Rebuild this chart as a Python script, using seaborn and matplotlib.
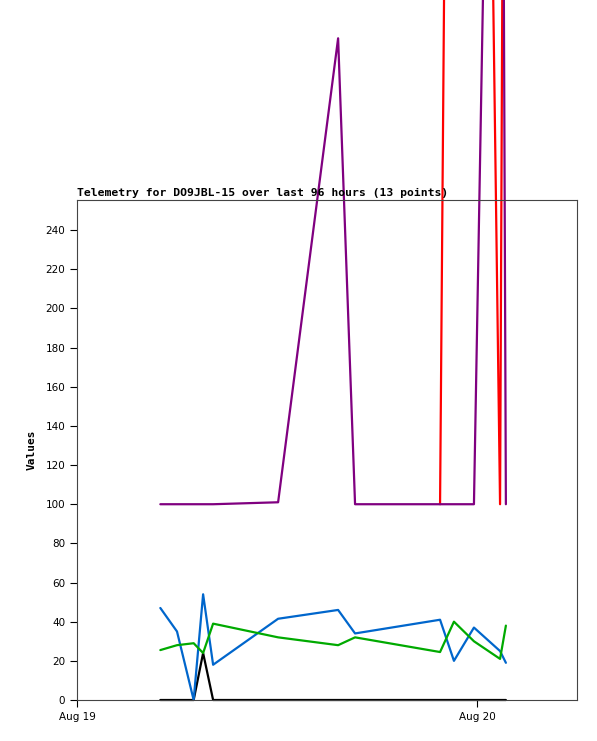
import pandas as pd
import numpy as np
import seaborn as sns
import matplotlib.pyplot as plt
import matplotlib.dates as mdates

# sample times (13 points)
times = pd.to_datetime([
    "2024-08-19 05:00", "2024-08-19 06:00", "2024-08-19 07:00", "2024-08-19 07:34",
    "2024-08-19 08:10", "2024-08-19 12:04", "2024-08-19 15:40", "2024-08-19 16:41",
    "2024-08-19 21:47", "2024-08-19 22:37", "2024-08-19 23:49", "2024-08-20 01:23",
    "2024-08-20 01:44",
])

ch_black = [0, 0, 0, 24, 0, 0, 0, 0, 0, 0, 0, 0, 0]
ch_blue = [47, 35, 0, 54, 18, 41.5, 46, 34, 41, 20, 37, 25, 19]
ch_green = [25.5, 28, 29, 24, 39, 32, 28, 32, 24.5, 40, 30, 21, 38]
ch_red = [np.nan] * 8 + [100, 1000, 1090, 100, 780]
ch_purple = [100, 100, 100, 100, 100, 101, 338, 100, 100, 100, 100, 850, 100]

series = {"black": ch_black, "blue": ch_blue, "green": ch_green,
          "red": ch_red, "purple": ch_purple}
colors = {"black": "#000000", "blue": "#0066cc", "green": "#00aa00",
          "red": "#ff0000", "purple": "#800080"}

sns.set_style("white")
plt.rcParams.update({"text.color": "black", "axes.labelcolor": "black",
                     "xtick.color": "black", "ytick.color": "black"})

fig = plt.figure(figsize=(5.97, 7.41), dpi=100)
ax = fig.add_axes([77 / 597, 1 - 700 / 741, 500 / 597, 500 / 741])

for name, vals in series.items():
    df = pd.DataFrame({"time": times, "value": vals}).dropna()
    sns.lineplot(data=df, x="time", y="value", ax=ax, color=colors[name],
                 linewidth=1.6, estimator=None, sort=False, clip_on=False)

ax.set_xlim(pd.Timestamp("2024-08-19 00:00"), pd.Timestamp("2024-08-20 06:00"))
ax.set_ylim(0, 255.4)
ax.set_yticks(range(0, 241, 20))
ax.xaxis.set_major_locator(mdates.DayLocator())
ax.xaxis.set_major_formatter(mdates.DateFormatter("%b %d"))

for sp in ax.spines.values():
    sp.set_color("#444444")
    sp.set_linewidth(0.8)

ax.tick_params(axis="both", direction="out", length=5, width=0.8, color="black",
               labelcolor="black", labelsize=7.5, bottom=True, left=True)

ax.set_xlabel("")
ax.set_ylabel("Values", family="DejaVu Sans Mono", fontweight="bold", fontsize=8,
              labelpad=6, color="black")
ax.set_title("Telemetry for DO9JBL-15 over last 96 hours (13 points)", loc="left",
             family="DejaVu Sans Mono", fontweight="bold", fontsize=8.2, pad=3,
             color="black")

fig.savefig("out.png", dpi=100)
